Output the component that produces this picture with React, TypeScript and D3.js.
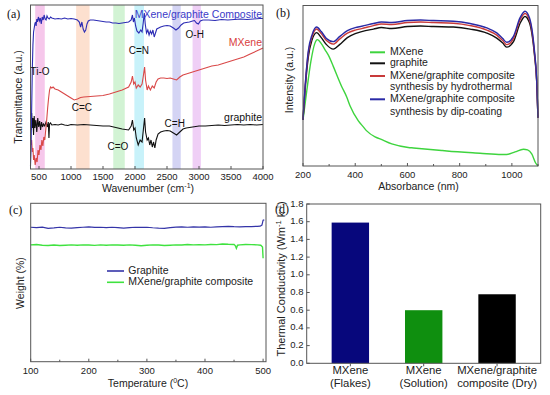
import React from 'react';
import * as d3 from 'd3';

const FONT = "'Liberation Sans', Arial, sans-serif";
const SERIF = "'Liberation Serif', 'Times New Roman', serif";

// ---------- Panel (a): FTIR ----------
const ftirTicks = [500, 1000, 1500, 2000, 2500, 3000, 3500, 4000];
const ftirBandRanges: [number, number][] = [
  [440, 590], [1080, 1290], [1660, 1840], [1990, 2140], [2585, 2715], [2900, 3030],
];
const ftirComposite: [number, number][] = [
  [367, 3], [375, 19], [385, 59], [395, 99], [405, 124], [415, 137], [425, 141], [435, 145], [445, 147], [455, 143],
  [465, 150], [475, 147], [490, 152], [505, 148], [520, 151], [535, 145], [550, 152], [565, 149], [580, 154], [595, 150],
  [610, 149], [625, 153], [640, 151], [660, 150], [680, 152], [700, 151], [750, 150], [800, 150.5], [850, 150], [900, 151],
  [950, 150], [1000, 150.5], [1050, 150], [1100, 149], [1130, 147], [1150, 142], [1170, 147], [1190, 140], [1210, 137], [1230, 139],
  [1250, 145], [1270, 148], [1300, 149], [1350, 149], [1400, 148.5], [1450, 148], [1500, 147.5], [1550, 147], [1600, 147], [1650, 146],
  [1700, 146], [1750, 145.5], [1800, 146], [1850, 146.5], [1900, 147], [1940, 149], [1960, 154], [1975, 147], [1990, 151], [2010, 143],
  [2030, 138], [2060, 136], [2090, 139], [2110, 137], [2130, 147], [2145, 156], [2160, 145], [2180, 136], [2200, 139], [2220, 134],
  [2240, 138], [2260, 135], [2280, 139], [2300, 132], [2320, 136], [2340, 140], [2370, 141], [2400, 142], [2450, 143], [2500, 143.5],
  [2550, 143], [2600, 141], [2640, 139], [2680, 141], [2720, 144], [2760, 146], [2800, 146.5], [2850, 147], [2900, 148], [2930, 148.5],
  [2960, 146], [2990, 145], [3020, 148], [3060, 149], [3150, 149], [3250, 148.5], [3350, 149.5], [3450, 149], [3550, 149.5], [3650, 150],
  [3750, 149.5], [3850, 150], [3950, 150.5], [4000, 150.5],
];
const ftirMXene: [number, number][] = [
  [367, 34], [375, 24], [385, 29], [395, 17], [405, 21], [415, 9], [425, 14], [440, 4], [455, 11], [470, 7],
  [485, 19], [500, 14], [515, 24], [530, 19], [545, 29], [560, 23], [575, 32], [590, 29], [605, 39], [620, 49],
  [635, 61], [650, 71], [665, 79], [680, 82], [700, 81], [720, 82], [750, 80], [800, 79], [850, 77], [900, 75],
  [950, 73], [1000, 71], [1050, 69], [1100, 70], [1150, 71.5], [1200, 72], [1300, 72.5], [1400, 73], [1500, 73.5], [1600, 75],
  [1700, 77], [1800, 79], [1900, 82], [1940, 87], [1960, 93], [1980, 85], [2000, 87], [2020, 81], [2050, 84], [2080, 82],
  [2110, 85], [2130, 93], [2150, 102], [2165, 89], [2190, 79], [2210, 83], [2240, 79], [2270, 83], [2300, 81], [2330, 87],
  [2360, 90], [2400, 91], [2450, 91], [2500, 90.5], [2550, 91], [2600, 90], [2650, 89], [2700, 92], [2750, 94], [2800, 95],
  [2900, 97], [3000, 99], [3100, 101], [3200, 103], [3300, 104], [3400, 106], [3500, 108], [3600, 110], [3700, 112], [3800, 115],
  [3900, 118], [4000, 121],
];
const ftirGraphite: [number, number][] = [
  [367, 51], [375, 39], [385, 56], [395, 41], [405, 51], [415, 34], [425, 53], [435, 41], [450, 49], [465, 37],
  [480, 51], [495, 42], [510, 48], [525, 39], [540, 47], [555, 42], [570, 45], [590, 43], [610, 47], [630, 42],
  [645, 47], [655, 31], [665, 45], [680, 46], [700, 44], [750, 44.5], [800, 44], [850, 45], [900, 44], [950, 43.5],
  [1000, 44.5], [1100, 44], [1200, 44.5], [1300, 44], [1400, 43.5], [1500, 43], [1600, 43], [1700, 41.5], [1800, 40], [1900, 39],
  [1940, 43], [1960, 49], [1980, 39], [2000, 41], [2020, 31], [2050, 24], [2080, 29], [2110, 27], [2130, 39], [2150, 51],
  [2165, 37], [2190, 29], [2210, 31], [2230, 24], [2250, 29], [2270, 22], [2290, 27], [2310, 21], [2330, 29], [2360, 35],
  [2400, 37], [2450, 38], [2500, 38.5], [2550, 38], [2600, 36], [2650, 34], [2700, 37], [2750, 40], [2800, 41], [2900, 42],
  [3000, 43], [3100, 43], [3200, 43.5], [3300, 44], [3400, 43.5], [3500, 44], [3600, 44.5], [3700, 44], [3800, 44.5], [3900, 44],
  [4000, 44.5],
];
const ftirLabels = ['Ti-O', 'C=C', 'C=O', 'C=N', 'C=H', 'O-H'];
const ftirLabelPos: [number, number][] = [[515, 97], [1170, 61], [1732, 22], [2060, 118], [2621, 45], [2933, 134]];

// ---------- Panel (b): UV-Vis ----------
const uvTicks = [200, 400, 600, 800, 1000];
const uvMinorTicks = [300, 500, 700, 900, 1100];
const uvMXene: [number, number][] = [
  [200, 46], [215, 76], [230, 104], [245, 122], [255, 126], [270, 122], [284, 116], [300, 109], [316, 99.3], [348, 79.3],
  [367, 69], [380, 60], [412, 45], [431, 39], [444, 35], [476, 29], [495, 27], [540, 22], [603, 18.5], [623, 18],
  [731, 15.5], [751, 15], [859, 13], [878, 12.7], [961, 11.5], [980, 11.5], [1012, 14], [1044, 16.7], [1060, 16], [1076, 12],
  [1091, 3], [1100, 0],
];
const uvGraphite: [number, number][] = [
  [200, 46], [210, 82], [220, 108], [235, 126], [252, 133], [270, 128], [290, 121], [316, 116.5], [340, 121], [370, 128],
  [400, 132], [425, 134], [470, 136.5], [500, 138], [540, 137], [600, 139], [650, 139.5], [700, 139], [776, 138.5], [840, 136.5],
  [904, 132.5], [942, 127.5], [965, 122.5], [980, 118.5], [1006, 124], [1031, 142], [1050, 149], [1067, 143], [1086, 112], [1095, 84],
  [1100, 48],
];
const uvHydro: [number, number][] = [
  [200, 46], [210, 85], [220, 112], [235, 129], [252, 136.5], [270, 132], [290, 125], [316, 121.5], [340, 126.5], [370, 132.5],
  [400, 135.5], [425, 137], [470, 140], [500, 141.5], [540, 141], [600, 143], [650, 143.5], [700, 143], [776, 142.3], [840, 140],
  [904, 135.5], [942, 130.5], [965, 125], [980, 121], [1006, 127], [1031, 145.5], [1050, 152], [1067, 146], [1086, 114], [1095, 85],
  [1100, 48],
];
const uvDip: [number, number][] = [
  [200, 46], [210, 86], [220, 114], [235, 131], [252, 138.5], [270, 134], [290, 127], [316, 124], [340, 129], [370, 135],
  [400, 138], [425, 139.3], [470, 142], [500, 143.5], [540, 143], [600, 145], [650, 145.5], [700, 145], [776, 144.3], [840, 142],
  [904, 137.7], [942, 132.7], [965, 127], [980, 123.3], [1006, 129.3], [1031, 147.7], [1050, 154.3], [1067, 148], [1086, 116], [1095, 86],
  [1100, 48],
];
const uvLegend = ['MXene', 'graphite', 'MXene/graphite composite', 'synthesis by hydrothermal', 'MXene/graphite composite', 'synthesis by dip-coating'];

// ---------- Panel (c): TGA ----------
const tgaTicks = [100, 200, 300, 400, 500];
const tgaMinorTicks = [150, 250, 350, 450];
const tgaGraphite: [number, number][] = [
  [100, 98.2], [110, 98.1], [120, 98.25], [130, 97.9], [140, 98.0], [150, 98.2], [160, 98.0], [170, 97.95], [180, 98.1], [190, 98.2],
  [200, 98.3], [210, 98.15], [220, 98.2], [230, 98.1], [240, 98.2], [250, 98.1], [260, 97.95], [270, 98.1], [280, 98.2], [290, 98.15],
  [300, 98.2], [310, 98.05], [320, 97.95], [330, 97.9], [340, 98.1], [350, 98.25], [360, 98.3], [370, 98.2], [380, 98.3], [390, 98.25],
  [400, 98.3], [410, 98.2], [420, 98.3], [430, 98.4], [440, 98.45], [450, 98.35], [460, 98.3], [470, 98.4], [480, 98.4], [490, 98.45],
  [495, 98.5], [498, 98.8], [500, 100.2], [502, 100.3],
];
const tgaComposite: [number, number][] = [
  [100, 93.2], [110, 93.3], [120, 93.1], [130, 93.0], [140, 93.15], [150, 93.0], [160, 93.1], [170, 93.2], [180, 93.1], [190, 93.2],
  [200, 93.15], [210, 93.05], [220, 93.2], [230, 93.1], [240, 93.2], [250, 93.15], [260, 93.1], [270, 93.2], [280, 93.1], [290, 92.95],
  [300, 93.1], [310, 93.2], [320, 93.15], [330, 93.0], [340, 93.1], [350, 93.2], [360, 93.15], [370, 93.3], [380, 93.2], [390, 93.25],
  [400, 93.2], [410, 93.3], [420, 93.25], [430, 93.45], [440, 93.35], [450, 93.3], [452, 93.0], [454, 92.2], [456, 93.1], [460, 93.2],
  [470, 93.3], [480, 93.25], [490, 93.2], [496, 93.1], [499, 92.6], [500, 89.4],
];
const tgaLegend = ['Graphite', 'MXene/graphite composite'];

// ---------- Panel (d): thermal conductivity ----------
const tcCategories = ['MXene (Flakes)', 'MXene (Solution)', 'MXene/graphite composite (Dry)'];
const tcLabelLines = [['MXene', '(Flakes)'], ['MXene', '(Solution)'], ['MXene/graphite', 'composite (Dry)']];
const tcValues = [1.59, 0.6, 0.78];
const tcTicks = [0, 0.2, 0.4, 0.6, 0.8, 1.0, 1.2, 1.4, 1.6, 1.8];

// ---------- styles ----------
const bandColors = ['#f3b4e4', '#fcd6bf', '#c3efc6', '#b5eef8', '#c6c6f0', '#eabff3'];
const C = {
  aBlue: '#2c2cb4', aRed: '#d94848', aBlack: '#111111',
  bGreen: '#3ed43e', bBlack: '#111111', bRed: '#c83a3a', bBlue: '#2a2aa6',
  cBlue: '#3434a8', cGreen: '#3fe23f',
  dBars: ['#07077c', '#0f8f0f', '#000000'],
  axis: '#555555',
};

function linePath(x: d3.ScaleLinear<number, number>, y: d3.ScaleLinear<number, number>, data: [number, number][], curve?: d3.CurveFactory) {
  const g = d3.line<[number, number]>().x(d => x(d[0])).y(d => y(d[1]));
  if (curve) g.curve(curve);
  return g(data) || '';
}

export default function App() {
  // Panel a
  const ax = d3.scaleLinear().domain([367, 4000]).range([30.5, 263]);
  const ay = d3.scaleLinear().domain([0, 164]).range([169, 5]);
  // Panel b
  const bx = d3.scaleLinear().domain([200, 1100]).range([303, 538]);
  const by = d3.scaleLinear().domain([0, 160]).range([166, 5.5]);
  // Panel c
  const cx = d3.scaleLinear().domain([100, 505]).range([30.7, 266]);
  const cy = d3.scaleLinear().domain([60, 105]).range([361.7, 203.3]);
  // Panel d
  const dx = d3.scaleBand<string>().domain(tcCategories).range([306.7, 540.7]).paddingInner(0.49).paddingOuter(0.34);
  const dy = d3.scaleLinear().domain([0, 1.8]).range([363.3, 204]);

  const uvColors = [C.bGreen, C.bBlack, C.bRed, null, C.bBlue, null];

  return (
    <svg width={550} height={395} style={{ position: 'absolute', left: 0, top: 0, background: '#fff' }} fontFamily={FONT}>
      <rect x={0} y={0} width={550} height={395} fill="#fff" />

      {/* ---------------- Panel (a) ---------------- */}
      <g>
        {ftirBandRanges.map((b, i) => (
          <rect key={i} x={ax(b[0])} y={ay(164)} width={ax(b[1]) - ax(b[0])} height={ay(0) - ay(164)} fill={bandColors[i]} opacity={0.75} />
        ))}
        <path d={linePath(ax, ay, ftirGraphite)} fill="none" stroke={C.aBlack} strokeWidth={1.1} />
        <path d={linePath(ax, ay, ftirMXene)} fill="none" stroke={C.aRed} strokeWidth={1.1} />
        <path d={linePath(ax, ay, ftirComposite)} fill="none" stroke={C.aBlue} strokeWidth={1.1} />
        <rect x={ax(367)} y={ay(164)} width={ax(4000) - ax(367)} height={ay(0) - ay(164)} fill="none" stroke={C.axis} strokeWidth={1} />
        {ftirTicks.map(t => (
          <g key={t}>
            <line x1={ax(t)} x2={ax(t)} y1={ay(0)} y2={ay(0) - 3} stroke={C.axis} />
            <text x={ax(t)} y={180} textAnchor="middle" fontSize={9.5} fill="#222">{t}</text>
          </g>
        ))}
        <text x={148} y={192} textAnchor="middle" fontSize={10.5} fill="#222">
          Wavenumber (cm<tspan dy={-4} fontSize={7}>-1</tspan><tspan dy={4}>)</tspan>
        </text>
        <text transform="translate(22,97) rotate(-90)" textAnchor="middle" fontSize={10.5} fill="#222">Transmittance (a.u.)</text>
        {ftirLabels.map((l, i) => (
          <text key={l} x={ax(ftirLabelPos[i][0])} y={ay(ftirLabelPos[i][1])} textAnchor="middle" dominantBaseline="middle" fontSize={10} fill="#111">{l}</text>
        ))}
        <text x={262} y={17.5} textAnchor="end" fontSize={10.5} fill="#3a3ac8">MXene/graphite Composite</text>
        <text x={262} y={45.5} textAnchor="end" fontSize={10.5} fill="#d94040">MXene</text>
        <text x={262} y={120.5} textAnchor="end" fontSize={10.5} fill="#111">graphite</text>
        <text x={7} y={18} fontFamily={SERIF} fontSize={12} fill="#111">(a)</text>
      </g>

      {/* ---------------- Panel (b) ---------------- */}
      <g>
        <path d={linePath(bx, by, uvMXene, d3.curveMonotoneX)} fill="none" stroke={C.bGreen} strokeWidth={1.4} />
        <path d={linePath(bx, by, uvGraphite, d3.curveMonotoneX)} fill="none" stroke={C.bBlack} strokeWidth={1.4} />
        <path d={linePath(bx, by, uvHydro, d3.curveMonotoneX)} fill="none" stroke={C.bRed} strokeWidth={1.4} />
        <path d={linePath(bx, by, uvDip, d3.curveMonotoneX)} fill="none" stroke={C.bBlue} strokeWidth={1.4} />
        <rect x={bx(200)} y={by(160)} width={bx(1100) - bx(200)} height={by(0) - by(160)} fill="none" stroke={C.axis} strokeWidth={1} />
        {uvTicks.map(t => (
          <g key={t}>
            <line x1={bx(t)} x2={bx(t)} y1={by(0)} y2={by(0) - 3} stroke={C.axis} />
            <text x={bx(t)} y={178} textAnchor="middle" fontSize={9.5} fill="#222">{t}</text>
          </g>
        ))}
        {uvMinorTicks.map(t => (
          <line key={t} x1={bx(t)} x2={bx(t)} y1={by(0)} y2={by(0) - 2} stroke={C.axis} />
        ))}
        <text x={418.5} y={189.5} textAnchor="middle" fontSize={10.5} fill="#222">Absorbance (nm)</text>
        <text transform="translate(293,80) rotate(-90)" textAnchor="middle" fontSize={10.5} fill="#222">Intensity (a.u.)</text>
        {uvLegend.map((l, i) => {
          const yy = [52.3, 63.3, 76, 87.3, 99.3, 112.3][i];
          return (
            <g key={i}>
              {uvColors[i] && <line x1={370} x2={385} y1={yy} y2={yy} stroke={uvColors[i] as string} strokeWidth={2} />}
              <text x={390} y={yy} dominantBaseline="middle" fontSize={10.5} fill="#222">{l}</text>
            </g>
          );
        })}
        <text x={276} y={17} fontFamily={SERIF} fontSize={12} fill="#111">(b)</text>
      </g>

      {/* ---------------- Panel (c) ---------------- */}
      <g>
        <path d={linePath(cx, cy, tgaGraphite)} fill="none" stroke={C.cBlue} strokeWidth={1.2} />
        <path d={linePath(cx, cy, tgaComposite)} fill="none" stroke={C.cGreen} strokeWidth={1.4} />
        <rect x={cx(100)} y={cy(105)} width={cx(505) - cx(100)} height={cy(60) - cy(105)} fill="none" stroke={C.axis} strokeWidth={1} />
        {tgaTicks.map(t => (
          <g key={t}>
            <line x1={cx(t)} x2={cx(t)} y1={cy(60)} y2={cy(60) - 3} stroke={C.axis} />
            <text x={cx(t)} y={374} textAnchor="middle" fontSize={9.5} fill="#222">{t}</text>
          </g>
        ))}
        {tgaMinorTicks.map(t => (
          <line key={t} x1={cx(t)} x2={cx(t)} y1={cy(60)} y2={cy(60) - 2} stroke={C.axis} />
        ))}
        <text x={148} y={387} textAnchor="middle" fontSize={10.5} fill="#222">
          Temperature (<tspan dy={-4} fontSize={7}>0</tspan><tspan dy={4}>C)</tspan>
        </text>
        <text transform="translate(24,283) rotate(-90)" textAnchor="middle" fontSize={10.5} fill="#222">Weight (%)</text>
        {tgaLegend.map((l, i) => {
          const yy = [271, 282.3][i];
          return (
            <g key={l}>
              <line x1={107} x2={124} y1={yy} y2={yy} stroke={[C.cBlue, C.cGreen][i]} strokeWidth={1.6} />
              <text x={128.3} y={yy} dominantBaseline="middle" fontSize={10.5} fill="#222">{l}</text>
            </g>
          );
        })}
        <text x={9} y={214} fontFamily={SERIF} fontSize={12} fill="#111">(c)</text>
      </g>

      {/* ---------------- Panel (d) ---------------- */}
      <g>
        {tcCategories.map((c, i) => (
          <rect key={c} x={dx(c)} y={dy(tcValues[i])} width={dx.bandwidth()} height={dy(0) - dy(tcValues[i])} fill={C.dBars[i]} />
        ))}
        <rect x={306.7} y={dy(1.8)} width={540.7 - 306.7} height={dy(0) - dy(1.8)} fill="none" stroke={C.axis} strokeWidth={1} />
        {tcTicks.map(t => (
          <g key={t}>
            <line x1={306.7} x2={309.7} y1={dy(t)} y2={dy(t)} stroke={C.axis} />
            <text x={303.5} y={dy(t)} textAnchor="end" dominantBaseline="middle" fontSize={9.5} fill="#222">{t.toFixed(1)}</text>
          </g>
        ))}
        {tcCategories.map((c, i) => (
          <g key={c}>
            <line x1={(dx(c) as number) + dx.bandwidth() / 2} x2={(dx(c) as number) + dx.bandwidth() / 2} y1={dy(0)} y2={dy(0) + 3} stroke={C.axis} />
            {tcLabelLines[i].map((ln, j) => (
              <text key={j} x={(dx(c) as number) + dx.bandwidth() / 2} y={374 + j * 12.7} textAnchor="middle" fontSize={11.3} fill="#222">{ln}</text>
            ))}
          </g>
        ))}
        <text transform="translate(285,279) rotate(-90)" textAnchor="middle" fontSize={11} fill="#222">
          Thermal Conductivity (Wm<tspan dy={-4} fontSize={7.5}>-1</tspan><tspan dy={4}> k</tspan><tspan dy={-4} fontSize={7.5}>-1</tspan><tspan dy={4}>)</tspan>
        </text>
        <text x={275} y={213} fontFamily={SERIF} fontSize={12} fill="#111">(d)</text>
      </g>
    </svg>
  );
}
